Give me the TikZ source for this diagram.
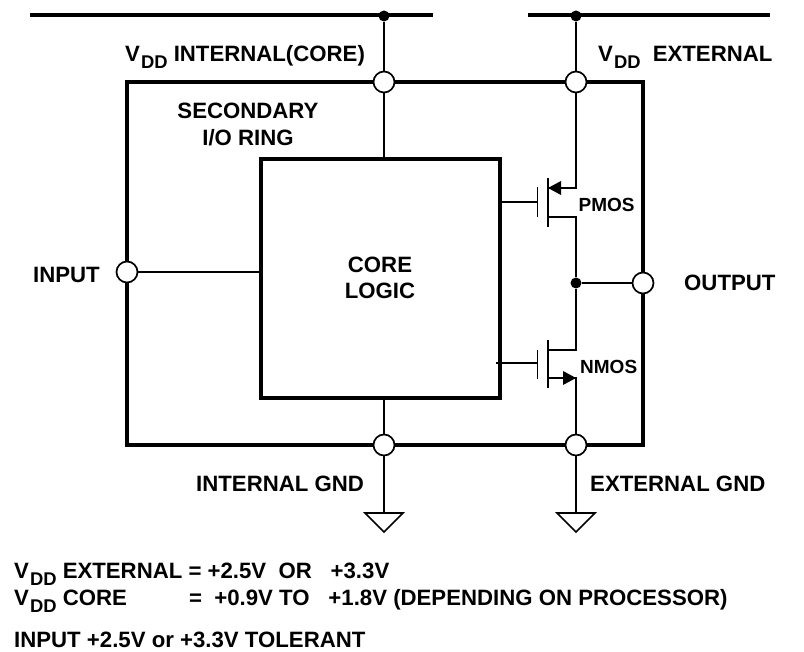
\documentclass[tikz,border=0pt]{standalone}
\usepackage{fontspec}
\setmainfont{Liberation Sans}
\newcommand{\Vdd}{V\hspace{1pt}\raisebox{-7pt}{\fontsize{18.4}{20}\selectfont DD}}
\tikzset{
  busline/.style={line width=4.2pt},
  wire/.style={line width=1.8pt},
  frame/.style={line width=3.4pt, draw, miter limit=10},
  pin/.style={circle, draw, fill=white, line width=1.7pt, minimum size=21pt, inner sep=0pt},
  joint/.style={circle, fill=black, minimum size=11pt, inner sep=0pt},
  lab/.style={inner sep=0pt, font=\fontsize{22.2}{26}\selectfont\bfseries},
  tiny/.style={inner sep=0pt, font=\fontsize{19}{22}\selectfont\bfseries},
  gnd/.style={line width=1.6pt, line join=miter},
  tip/.style={fill=black, draw=none}
}
\begin{document}
\begin{tikzpicture}[x=1pt,y=-1pt]
\useasboundingbox (0,0) rectangle (804,652);
% frames
\draw[frame] (127,82) rectangle (643,445);
\draw[frame] (261,159) rectangle (500,398);
% rails
\coordinate (railAl) at (30,15); \coordinate (railAr) at (433,15);
\coordinate (railBl) at (528,15); \coordinate (railBr) at (770,15);
\draw[busline] (railAl) -- (railAr);
\draw[busline] (railBl) -- (railBr);
\node[joint] (jA) at (384,16) {};
\node[joint] (jB) at (576,16) {};
\coordinate (coreTop) at (384,159);
\coordinate (coreBot) at (384,398);
\coordinate (coreLeft) at (261,272);
\draw[wire] (jA) -- (384,82) -- (coreTop);
\draw[wire] (coreBot) -- (384,445) -- (384,513);
\draw[wire] (jB) -- (576,82);
\draw[wire] (127,272) -- (coreLeft);
% grounds
\coordinate (gE) at (576,513);
\draw[wire] (576,445) -- (gE);
\draw[gnd] (365,513) -- (403,513) -- (384,532) -- cycle;
\draw[gnd] (557,513) -- (595,513) -- (576,532) -- cycle;
\node[joint] (mid) at (576,283) {};
\draw[wire] (mid) -- (643,283);
% PMOS
\coordinate (pS) at (576,188); \coordinate (pD) at (576,217);
\draw[wire] (576,82) -- (pS) -- (548,188);
\draw[wire] (mid) -- (pD) -- (548,217);
\draw[wire] (548,178) -- (548,227);
\draw[wire] (537.5,187) -- (537.5,217);
\draw[wire] (500,202) -- (537.5,202);
\fill[tip] (548,188) -- (561,181) -- (561,195) -- cycle;
% NMOS
\coordinate (nD) at (576,350); \coordinate (nS) at (576,378);
\draw[wire] (mid) -- (nD) -- (548,350);
\draw[wire] (576,445) -- (nS) -- (548,378);
\draw[wire] (548,340) -- (548,388);
\draw[wire] (537.5,350) -- (537.5,379);
\draw[wire] (496,363) -- (537.5,363);
\fill[tip] (576,378) -- (563,371) -- (563,385) -- cycle;
% pins on top of the wires
\node[pin] (vddI) at (384,82) {};
\node[pin] (vddE) at (576,82) {};
\node[pin] (gndI) at (384,445) {};
\node[pin] (gndE) at (576,445) {};
\node[pin] (inp) at (127,272) {};
\node[pin] (out) at (643,283) {};
% labels
\node[lab,anchor=base west] (l1) at (125,62) {\Vdd{} INTERNAL(CORE)};
\node[lab,anchor=base west] (l2) at (598,62) {\Vdd\hspace{0.55em}EXTERNAL};
\node[lab,anchor=base] (l3a) at (248,119) {SECONDARY};
\node[lab,anchor=base] (l3b) at (248,146) {I/O RING};
\node[lab,anchor=base] (l4a) at (380,273) {CORE};
\node[lab,anchor=base] (l4b) at (380,299) {LOGIC};
\node[lab,anchor=base west] (l5) at (33,283) {INPUT};
\node[lab,anchor=base west] (l6) at (684,291) {OUTPUT};
\node[lab,anchor=base west] (l7) at (196,491) {INTERNAL GND};
\node[lab,anchor=base west] (l8) at (590,491) {EXTERNAL GND};
\node[tiny,anchor=base west] (pm) at (578.5,212) {PMOS};
\node[tiny,anchor=base west] (nm) at (580,374) {NMOS};
\node[lab,anchor=base west] (b1) at (14,578) {\Vdd{} EXTERNAL = +2.5V\hspace{0.55em}OR\hspace{0.85em}+3.3V};
\node[lab,anchor=base west] (b2) at (14,605) {\Vdd{} CORE};
\node[lab,anchor=base west] (b3) at (189,605) {=\hspace{0.55em}+0.9V TO\hspace{0.85em}+1.8V (DEPENDING ON PROCESSOR)};
\node[lab,anchor=base west] (b4) at (14,647) {INPUT +2.5V or +3.3V TOLERANT};
\end{tikzpicture}
\end{document}
